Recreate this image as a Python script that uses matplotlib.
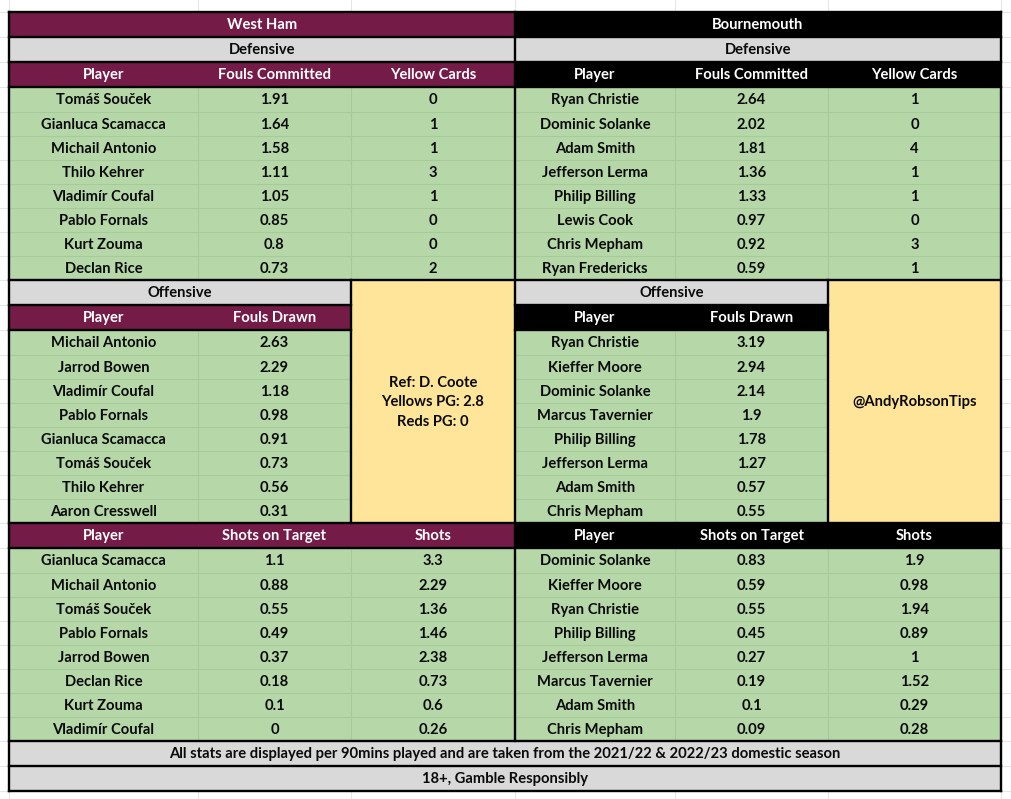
import matplotlib
matplotlib.use("Agg")
import matplotlib.pyplot as plt
from matplotlib.patches import Rectangle

plt.rcParams['font.family'] = ['Lato', 'DejaVu Sans']

# ---------- data ----------
team_left = "West Ham"
team_right = "Bournemouth"

wh_def_players = ["Tomáš Souček", "Gianluca Scamacca", "Michail Antonio", "Thilo Kehrer",
                  "Vladimír Coufal", "Pablo Fornals", "Kurt Zouma", "Declan Rice"]
wh_fouls = ["1.91", "1.64", "1.58", "1.11", "1.05", "0.85", "0.8", "0.73"]
wh_yellows = ["0", "1", "1", "3", "1", "0", "0", "2"]

bo_def_players = ["Ryan Christie", "Dominic Solanke", "Adam Smith", "Jefferson Lerma",
                  "Philip Billing", "Lewis Cook", "Chris Mepham", "Ryan Fredericks"]
bo_fouls = ["2.64", "2.02", "1.81", "1.36", "1.33", "0.97", "0.92", "0.59"]
bo_yellows = ["1", "0", "4", "1", "1", "0", "3", "1"]

wh_off_players = ["Michail Antonio", "Jarrod Bowen", "Vladimír Coufal", "Pablo Fornals",
                  "Gianluca Scamacca", "Tomáš Souček", "Thilo Kehrer", "Aaron Cresswell"]
wh_drawn = ["2.63", "2.29", "1.18", "0.98", "0.91", "0.73", "0.56", "0.31"]

bo_off_players = ["Ryan Christie", "Kieffer Moore", "Dominic Solanke", "Marcus Tavernier",
                  "Philip Billing", "Jefferson Lerma", "Adam Smith", "Chris Mepham"]
bo_drawn = ["3.19", "2.94", "2.14", "1.9", "1.78", "1.27", "0.57", "0.55"]

wh_shot_players = ["Gianluca Scamacca", "Michail Antonio", "Tomáš Souček", "Pablo Fornals",
                   "Jarrod Bowen", "Declan Rice", "Kurt Zouma", "Vladimír Coufal"]
wh_sot = ["1.1", "0.88", "0.55", "0.49", "0.37", "0.18", "0.1", "0"]
wh_shots = ["3.3", "2.29", "1.36", "1.46", "2.38", "0.73", "0.6", "0.26"]

bo_shot_players = ["Dominic Solanke", "Kieffer Moore", "Ryan Christie", "Philip Billing",
                   "Jefferson Lerma", "Marcus Tavernier", "Adam Smith", "Chris Mepham"]
bo_sot = ["0.83", "0.59", "0.55", "0.45", "0.27", "0.19", "0.1", "0.09"]
bo_shots = ["1.9", "0.98", "1.94", "0.89", "1", "1.52", "0.29", "0.28"]

ref_text = "Ref: D. Coote\nYellows PG: 2.8\nReds PG: 0"
handle_text = "@AndyRobsonTips"
footer_1 = "All stats are displayed per 90mins played and are taken from the 2021/22 & 2022/23 domestic season"
footer_2 = "18+, Gamble Responsibly"

# ---------- layout ----------
W, H = 1011, 799
X = [9, 198, 351, 515, 675, 828, 1001]
MAROON, BLACK, GREY, GREEN, YELLOW = "#741b47", "#000000", "#d9d9d9", "#b6d7a8", "#ffe599"
GRID_GREEN, GRID_BG = "#a8ca9b", "#e6e6e6"
FS = 10.6
TEXT_DY = 0.8

fig = plt.figure(figsize=(W / 100, H / 100), dpi=100)
ax = fig.add_axes([0, 0, 1, 1])
ax.set_xlim(0, W)
ax.set_ylim(H, 0)
ax.axis("off")

# faint spreadsheet grid behind and around the table
for x in X:
    ax.plot([x, x], [0, H], color=GRID_BG, lw=0.8, zorder=0)
for y in [12, 791]:
    ax.plot([0, W], [y, y], color=GRID_BG, lw=0.8, zorder=0)
for y in [37, 62, 87, 112, 136, 160, 184, 208, 232, 256, 280, 305, 330, 355, 379, 403, 427,
          451, 475, 499, 523, 548, 573, 597, 621, 645, 669, 693, 717, 741, 766]:
    ax.plot([0, 9], [y, y], color=GRID_BG, lw=0.8, zorder=0)
    ax.plot([1001, W], [y, y], color=GRID_BG, lw=0.8, zorder=0)


def cell(x0, x1, y0, y1, face, text=None, color="#0a0a0a", zorder=1, fs=FS):
    ax.add_patch(Rectangle((x0, y0), x1 - x0, y1 - y0, facecolor=face, edgecolor="none", zorder=zorder))
    if text is not None:
        ax.text((x0 + x1) / 2, (y0 + y1) / 2 + TEXT_DY, text, ha="center", va="center", fontsize=fs,
                fontweight="bold", color=color, zorder=5, linespacing=1.48)


def table_block(xs, y_head, y_rows, head_color, headers, columns):
    """Header band plus eight green rows."""
    for i, head in enumerate(headers):
        cell(xs[i], xs[i + 1], y_head, y_rows[0], head_color, head, "white")
    for c, col in enumerate(columns):
        for r, val in enumerate(col):
            cell(xs[c], xs[c + 1], y_rows[r], y_rows[r + 1], GREEN, val)
    for y in y_rows[1:-1]:
        ax.plot([xs[0], xs[-1]], [y, y], color=GRID_GREEN, lw=0.8, zorder=2)
    for x in xs[1:-1]:
        ax.plot([x, x], [y_rows[0], y_rows[-1]], color=GRID_GREEN, lw=0.8, zorder=2)


rows_top = [87, 112, 136, 160, 184, 208, 232, 256, 280]
rows_mid = [330, 355, 379, 403, 427, 451, 475, 499, 523]
rows_bot = [548, 573, 597, 621, 645, 669, 693, 717, 741]

# team and section bands
cell(X[0], X[3], 12, 37, MAROON, team_left, "white")
cell(X[3], X[6], 12, 37, BLACK, team_right, "white")
cell(X[0], X[3], 37, 62, GREY, "Defensive")
cell(X[3], X[6], 37, 62, GREY, "Defensive")

# defensive tables
table_block(X[0:4], 62, rows_top, MAROON, ["Player", "Fouls Committed", "Yellow Cards"],
            [wh_def_players, wh_fouls, wh_yellows])
table_block(X[3:7], 62, rows_top, BLACK, ["Player", "Fouls Committed", "Yellow Cards"],
            [bo_def_players, bo_fouls, bo_yellows])

# offensive tables and the two yellow panels
cell(X[0], X[2], 280, 305, GREY, "Offensive")
cell(X[3], X[5], 280, 305, GREY, "Offensive")
table_block(X[0:3], 305, rows_mid, MAROON, ["Player", "Fouls Drawn"], [wh_off_players, wh_drawn])
table_block(X[3:6], 305, rows_mid, BLACK, ["Player", "Fouls Drawn"], [bo_off_players, bo_drawn])
cell(X[2], X[3], 280, 523, YELLOW, ref_text)
cell(X[5], X[6], 280, 523, YELLOW, handle_text)

# shots tables
table_block(X[0:4], 523, rows_bot, MAROON, ["Player", "Shots on Target", "Shots"],
            [wh_shot_players, wh_sot, wh_shots])
table_block(X[3:7], 523, rows_bot, BLACK, ["Player", "Shots on Target", "Shots"],
            [bo_shot_players, bo_sot, bo_shots])

# footers
cell(X[0], X[6], 741, 766, GREY, footer_1)
cell(X[0], X[6], 766, 791, GREY, footer_2)

# heavy black rules
LW = 1.7
for y in [12, 37, 62, 87, 280, 305, 330, 523, 548, 741, 766, 791]:
    x0, x1 = X[0], X[6]
    if y in (305, 330):
        for a, b in [(X[0], X[2]), (X[3], X[5])]:
            ax.plot([a, b], [y, y], color="black", lw=LW, zorder=4, solid_capstyle="projecting")
        continue
    ax.plot([x0, x1], [y, y], color="black", lw=LW, zorder=4, solid_capstyle="projecting")
for x in [X[0], X[6]]:
    ax.plot([x, x], [12, 791], color="black", lw=LW, zorder=4, solid_capstyle="projecting")
ax.plot([X[3], X[3]], [12, 741], color="black", lw=LW, zorder=4, solid_capstyle="projecting")
for x in [X[2], X[5]]:
    ax.plot([x, x], [280, 523], color="black", lw=LW, zorder=4, solid_capstyle="projecting")

fig.savefig("out.png", dpi=100, facecolor="white")
